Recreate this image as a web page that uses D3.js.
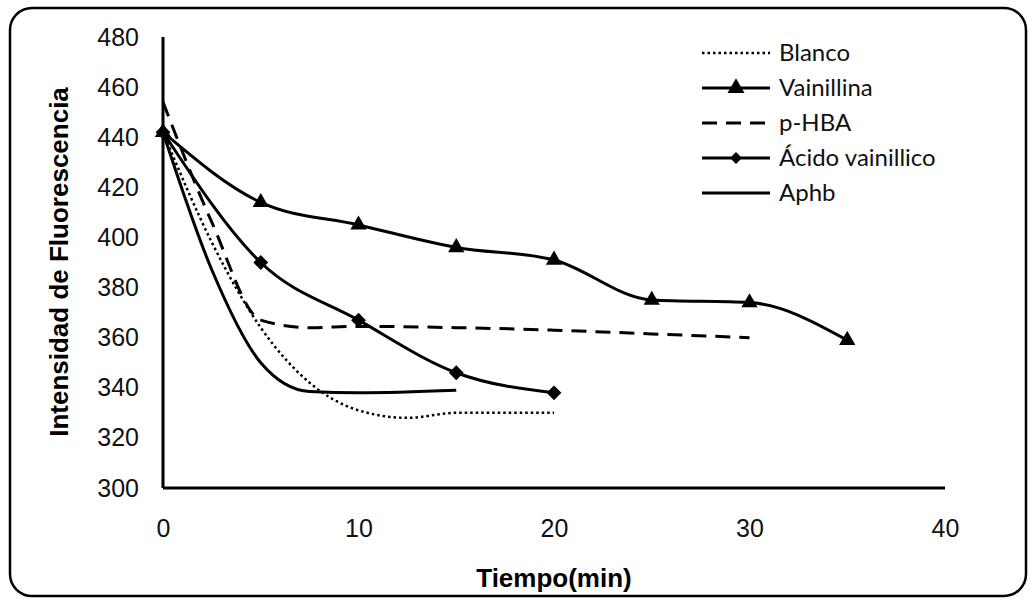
<!DOCTYPE html>
<html>
<head>
<meta charset="utf-8">
<script src="https://cdn.jsdelivr.net/npm/d3@7"></script>
<style>
	body { margin: 0; background: #fff; }
	svg { display: block; }
	.tick-label { font-family: "Liberation Sans", Arial, sans-serif; font-size: 25px; fill: #111; }
	.axis-title { font-family: "Liberation Sans", Arial, sans-serif; font-size: 26px; font-weight: bold; fill: #000; }
	.legend-label { font-family: Lato, "Open Sans", sans-serif; font-size: 24px; fill: #111; }
</style>
</head>
<body>
<svg id="wrapper" width="1032" height="600"></svg>
<script>
// values (Tiempo in min, Intensidad de Fluorescencia)
let tiempo = [0, 5, 10, 15, 20, 25, 30, 35];
let vainillina = [442, 414, 405, 396, 391, 375, 374, 359];
let acidoVainillico = [442, 390, 367, 346, 338];

// series drawn without markers, read at more time points along the curve
let tiempoBlanco = [0, 2.5, 5, 7.5, 10, 12.5, 15, 20];
let blanco = [442, 398, 364, 342, 331, 328, 330, 330];
let tiempoPHBA = [0, 2.5, 5, 7.5, 10, 15, 20, 25, 30];
let pHBA = [454, 406, 367, 364, 364.5, 364, 363, 361.5, 360];
let tiempoAphb = [0, 2.5, 5, 7.5, 10, 15];
let aphb = [442, 387, 350, 338.5, 338, 339];

let xTicks = [0, 10, 20, 30, 40];
let yTicks = [300, 320, 340, 360, 380, 400, 420, 440, 460, 480];

let series = [
	{ name: "Blanco", t: tiempoBlanco, values: blanco, dash: "2.5,3", marker: null },
	{ name: "Vainillina", t: tiempo, values: vainillina, dash: null, marker: "triangle" },
	{ name: "p-HBA", t: tiempoPHBA, values: pHBA, dash: "15,9", marker: null },
	{ name: "Ácido vainillico", t: tiempo, values: acidoVainillico, dash: null, marker: "diamond" },
	{ name: "Aphb", t: tiempoAphb, values: aphb, dash: null, marker: null },
];

let svg = d3.select("#wrapper");

let x = d3.scaleLinear().domain([0, 40]).range([163, 945]);
let y = d3.scaleLinear().domain([300, 480]).range([488, 37]);

// rounded frame around the chart
svg
	.append("rect")
	.attr("x", 10)
	.attr("y", 8)
	.attr("width", 1016)
	.attr("height", 588)
	.attr("rx", 22)
	.attr("fill", "none")
	.attr("stroke", "#000")
	.attr("stroke-width", 2.5);

// axes
let xAxis = d3.axisBottom(x).tickValues(xTicks).tickSize(0).tickPadding(31);
let yAxis = d3.axisLeft(y).tickValues(yTicks).tickSize(0).tickPadding(24);

let gx = svg.append("g").attr("transform", "translate(0," + y(300) + ")").call(xAxis);
let gy = svg.append("g").attr("transform", "translate(" + x(0) + ",0)").call(yAxis);

[gx, gy].forEach((g) => {
	g.select(".domain").attr("stroke", "#000").attr("stroke-width", 3);
	g.selectAll("text").attr("class", "tick-label").attr("fill", null);
});
gx.select(".domain").attr("d", "M" + x(0) + ",0H" + x(40));
gy.select(".domain").attr("d", "M0," + y(300) + "V" + y(480));

svg
	.append("text")
	.attr("class", "axis-title")
	.attr("x", x(20))
	.attr("y", 587)
	.attr("text-anchor", "middle")
	.text("Tiempo(min)");

svg
	.append("text")
	.attr("class", "axis-title")
	.attr("transform", "translate(68,262) rotate(-90)")
	.attr("text-anchor", "middle")
	.text("Intensidad de Fluorescencia");

let line = d3.line().curve(d3.curveMonotoneX);

let markerPath = function (type, size) {
	if (type === "triangle") return d3.symbol(d3.symbolTriangle, size)();
	return d3.symbol(d3.symbolDiamond2, size)();
};

series.forEach((s) => {
	let pts = s.values.map((v, i) => [x(s.t[i]), y(v)]);
	svg
		.append("path")
		.attr("d", line(pts))
		.attr("fill", "none")
		.attr("stroke", "#000")
		.attr("stroke-width", s.dash === "2.5,3" ? 2.5 : 3)
		.attr("stroke-dasharray", s.dash);

	if (s.marker) {
		svg
			.selectAll(null)
			.data(s.values)
			.enter()
			.append("path")
			.attr("d", markerPath(s.marker, s.marker === "triangle" ? 115 : 140))
			.attr("transform", (d, i) => "translate(" + x(s.t[i]) + "," + y(d) + ")")
			.attr("fill", "#000");
	}
});

// legend
let legend = svg.append("g").attr("transform", "translate(702,53)");
series.forEach((s, i) => {
	let row = legend.append("g").attr("transform", "translate(0," + i * 35 + ")");
	row
		.append("line")
		.attr("x1", 0)
		.attr("x2", 68)
		.attr("stroke", "#000")
		.attr("stroke-width", s.dash === "2.5,3" ? 2.5 : 3)
		.attr("stroke-dasharray", s.dash);
	if (s.marker) {
		row
			.append("path")
			.attr("d", markerPath(s.marker, s.marker === "triangle" ? 125 : 90))
			.attr("transform", "translate(34,0)")
			.attr("fill", "#000");
	}
	row
		.append("text")
		.attr("class", "legend-label")
		.attr("x", 77)
		.attr("y", 8)
		.text(s.name);
});
</script>
</body>
</html>
